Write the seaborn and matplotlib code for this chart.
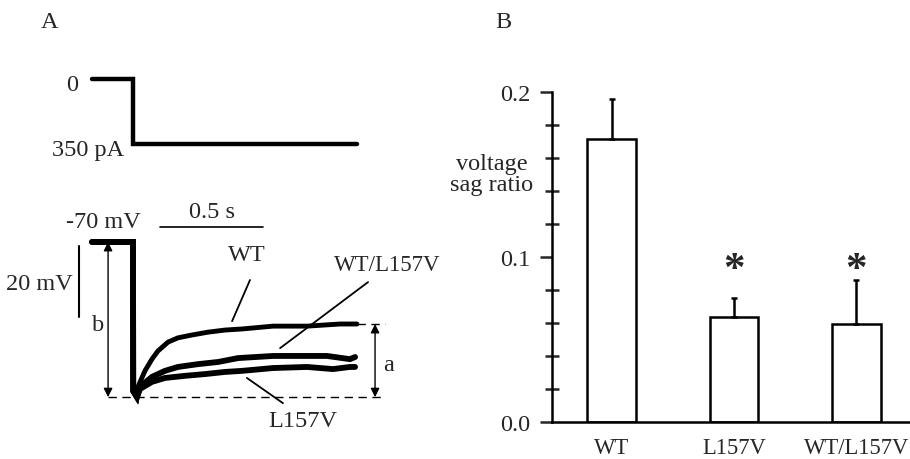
import numpy as np
import pandas as pd
import matplotlib
matplotlib.use("Agg")
import matplotlib.pyplot as plt
import seaborn as sns

# ---------------- data ----------------
# Panel A: current step command (time in ms, current in pA)
step_t = [-199, 0, 0, 1087]
step_i = [0, 0, -350, -350]

# Panel A: voltage traces (time in ms, membrane potential in mV)
wt_t = [-199, 0, 1, 19, 24, 58, 92, 121, 170, 218, 286, 364, 447, 529, 680, 845, 1005, 1087]
wt_v = [-70, -70, -112, -113.7, -110.8, -106.3, -103.0, -100.7, -98.2, -97.0, -96.2,
        -95.4, -94.8, -94.5, -93.7, -93.7, -93.1, -93.1]

mix_t = [-199, 0, 1, 19, 34, 92, 155, 218, 316, 413, 510, 680, 845, 942, 1053, 1078]
mix_v = [-70, -70, -112, -113.7, -110.8, -108.0, -106.3, -105.2, -104.4, -103.8, -102.7,
         -102.1, -102.1, -102.1, -103.0, -102.4]

l157v_t = [-199, 0, 1, 19, 34, 92, 155, 252, 350, 447, 529, 680, 845, 971, 1053, 1078]
l157v_v = [-70, -70, -112, -113.7, -111.4, -109.4, -108.3, -107.7, -107.2, -106.6, -106.3,
           -105.5, -105.2, -105.8, -105.2, -105.2]

# Panel B: voltage sag ratio
groups = ["WT", "L157V", "WT/L157V"]
sag_mean = [0.1715, 0.0636, 0.0594]
sag_sem = [0.0243, 0.0116, 0.0266]
significant = [False, True, True]
ytick_vals = [0.0, 0.1, 0.2]
ytick_labels = ["0.0", "0.1", "0.2"]

# ---------------- style ----------------
sns.set_theme(style="white")
plt.rcParams["font.family"] = ["Liberation Serif", "DejaVu Serif"]
FS = 17.5

W, H = 910, 460
fig = plt.figure(figsize=(W / 100, H / 100), dpi=100)


def add_axes_px(x0, y0, x1, y1):
    return fig.add_axes([x0 / W, 1 - y1 / H, (x1 - x0) / W, (y1 - y0) / H])


# ---- panel A geometry (layout only) ----
MS_PX = 0.206      # px per ms
MV_PX = 3.55       # px per mV
PA_PX = 65 / 350   # px per pA
X0 = 133           # px of t = 0


def t_lim(px):
    return (px - X0) / MS_PX


# Current axes
axI = add_axes_px(0, 40, 460, 175)
axI.set_xlim(t_lim(0), t_lim(460))
axI.set_ylim(-(175 - 80) / PA_PX, (80 - 40) / PA_PX)
sns.lineplot(x=step_t, y=step_i, ax=axI, color="black", lw=3.2, sort=False,
             estimator=None, solid_joinstyle="miter")
axI.text(-296, -27, "0", ha="center", va="center", fontsize=FS)
axI.text(-218, -377, "350 pA", ha="center", va="center", fontsize=FS)
axI.axis("off")

# Voltage axes
axV = add_axes_px(0, 175, 460, 450)
axV.set_xlim(t_lim(0), t_lim(460))
axV.set_ylim(-70 - (450 - 243) / MV_PX, -70 + (243 - 175) / MV_PX)
for tt, vv, lw in [(wt_t, wt_v, 3.5), (mix_t, mix_v, 4.2), (l157v_t, l157v_v, 4.2)]:
    sns.lineplot(x=tt, y=vv, ax=axV, color="black", lw=lw, sort=False,
                 estimator=None, solid_joinstyle="miter")

# scale bars
axV.plot([131, 631], [-65.8, -65.8], color="black", lw=1.2)
axV.text(383, -61.3, "0.5 s", ha="center", va="center", fontsize=FS)
axV.plot([-262, -262], [-71.1, -91.1], color="black", lw=1.5)
axV.text(-291, -81.8, "20 mV", ha="right", va="center", fontsize=FS)
axV.text(-146, -64.1, "-70 mV", ha="center", va="center", fontsize=FS)

# dashed reference lines
axV.plot([-121, 1223], [-113.7, -113.7], color="black", lw=1.0, ls=(0, (6, 4)))
axV.plot([1087, 1223], [-93.1, -93.1], color="black", lw=1.0, ls=(0, (6, 4)))

# measurement arrows
arr = dict(arrowstyle="<|-|>", color="black", lw=1.0, mutation_scale=13,
           shrinkA=0, shrinkB=0)
axV.annotate("", xy=(-121, -113.7), xytext=(-121, -70), arrowprops=arr)
axV.text(-170, -93.1, "b", ha="center", va="center", fontsize=FS)
axV.annotate("", xy=(1175, -113.7), xytext=(1175, -93.1), arrowprops=arr)
axV.text(1212, -104.4, "a", ha="left", va="center", fontsize=FS)

# trace labels with pointers
axV.text(553, -73.4, "WT", ha="center", va="center", fontsize=FS)
axV.plot([568, 481], [-80.7, -92.3], color="black", lw=1.3)
axV.text(1233, -76.2, "WT/L157V", ha="center", va="center", fontsize=16.5)
axV.plot([1141, 714], [-81.3, -99.9], color="black", lw=1.3)
axV.text(825, -120.4, "L157V", ha="center", va="center", fontsize=FS)
axV.plot([553, 728], [-108.3, -115.4], color="black", lw=1.3)
axV.axis("off")

# ---- panel B ----
axB = add_axes_px(552, 93, 910, 423)
df = pd.DataFrame({"group": groups, "sag": sag_mean})
sns.barplot(data=df, x="group", y="sag", order=groups, color="white",
            edgecolor="black", linewidth=1.8, width=0.4, errorbar=None,
            saturation=1, ax=axB)
axB.errorbar(x=np.arange(len(groups)), y=sag_mean,
             yerr=[np.zeros(len(groups)), sag_sem], fmt="none", ecolor="black",
             elinewidth=1.8, capsize=2.5, capthick=1.8, zorder=1)
for i, sig in enumerate(significant):
    if sig:
        axB.text(i, 0.086, "*", ha="center", va="baseline", fontsize=31,
                 fontweight="bold")

axB.set_ylim(0, 0.2)
axB.set_xlim(-0.49, 2.44)
axB.set_yticks(ytick_vals)
axB.set_yticklabels(ytick_labels)
axB.set_yticks(np.arange(0.02, 0.2, 0.02), minor=True)
axB.tick_params(axis="y", which="major", direction="out", length=8.6, width=1.8,
                labelsize=FS, pad=7, left=True)
axB.tick_params(axis="y", which="minor", direction="inout", length=10, width=1.8,
                left=True)
axB.tick_params(axis="x", length=0, labelsize=16.3, pad=11)
axB.spines["top"].set_visible(False)
axB.spines["right"].set_visible(False)
for s in ["left", "bottom"]:
    axB.spines[s].set_linewidth(1.8)
    axB.spines[s].set_color("black")
axB.set_xlabel("")
axB.set_ylabel("voltage\nsag ratio", rotation=0, fontsize=FS, ha="center",
               va="center", linespacing=1.0)
axB.yaxis.set_label_coords((492 - 552) / 358, (423 - 175) / 330)

fig.text(50 / W, 1 - 22 / H, "A", ha="center", va="center", fontsize=FS)
fig.text(503 / W, 1 - 22 / H, "B", ha="center", va="center", fontsize=FS)

fig.savefig("out.png", dpi=100, facecolor="white")
